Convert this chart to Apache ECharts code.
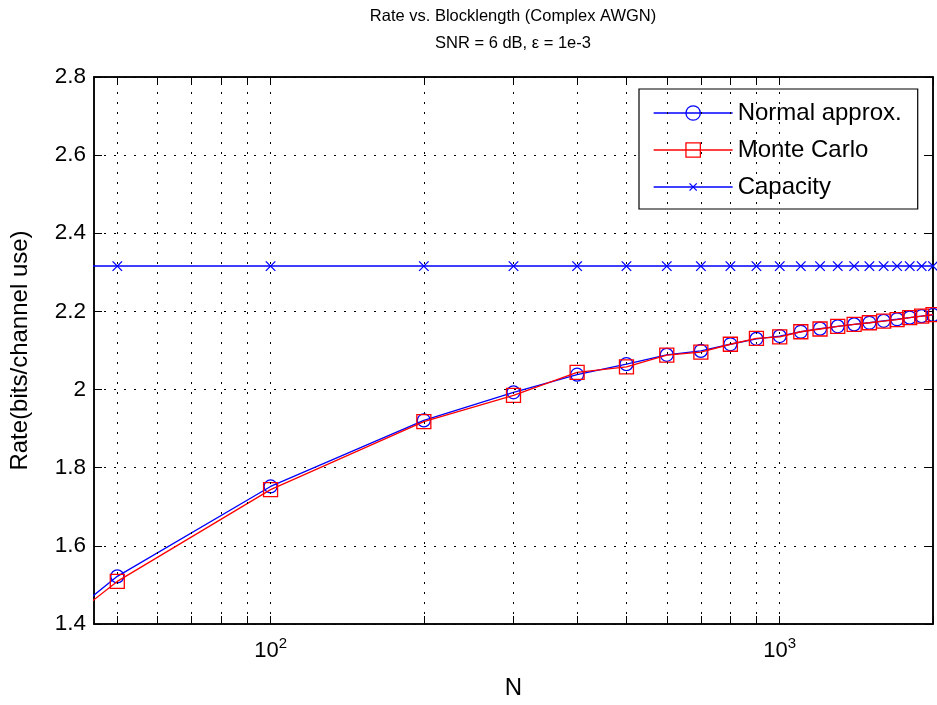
<!DOCTYPE html>
<html><head><meta charset="utf-8">
<script src="https://cdn.jsdelivr.net/npm/echarts@6/dist/echarts.min.js"></script>
<style>html,body{margin:0;padding:0;background:#fff}#c{width:937px;height:705px}</style>
</head><body><div id="c"></div>
<script>
// ---- data ----
const N = [40, 50, 100, 200, 300, 400, 500, 600, 700, 800, 900, 1000, 1100, 1200, 1300, 1400, 1500, 1600, 1700, 1800, 1900, 2000];
const normalApprox = [1.420, 1.522, 1.752, 1.921, 1.993, 2.038, 2.065, 2.089, 2.099, 2.116, 2.130, 2.137, 2.148, 2.156, 2.162, 2.167, 2.171, 2.176, 2.180, 2.184, 2.188, 2.191];
const monteCarlo   = [1.410, 1.509, 1.744, 1.918, 1.985, 2.044, 2.058, 2.088, 2.096, 2.116, 2.131, 2.135, 2.148, 2.155, 2.162, 2.167, 2.171, 2.175, 2.179, 2.184, 2.188, 2.192];
const capacity     = [2.316, 2.316, 2.316, 2.316, 2.316, 2.316, 2.316, 2.316, 2.316, 2.316, 2.316, 2.316, 2.316, 2.316, 2.316, 2.316, 2.316, 2.316, 2.316, 2.316, 2.316, 2.316];
const xMajorTicks = [100, 1000];
const xAllTicks = [50, 60, 70, 80, 90, 100, 200, 300, 400, 500, 600, 700, 800, 900, 1000, 2000];
const xGridLines = [50, 60, 70, 80, 90, 100, 200, 300, 400, 500, 600, 700, 800, 900, 1000];
const xRange = [45, 2000];
const yRange = [1.4, 2.8];
const yStep = 0.2;
const seriesNames = ['Normal approx.', 'Monte Carlo', 'Capacity'];
const titleText = 'Rate vs. Blocklength (Complex AWGN)\nSNR = 6 dB, \u03b5 = 1e-3';

// ---- chart ----
const FONT = "'Liberation Sans', Arial, Helvetica, sans-serif";
const BLUE = '#0000ff', RED = '#ff0000';
const XPATH = 'path://M0,0M20,20M5,5L15,15M15,5L5,15';
const chart = echarts.init(document.getElementById('c'), null, {renderer: 'canvas'});
const pairs = arr => N.map((n, i) => [n, arr[i]]);
const dotted = {color: '#000', width: 1, type: [2, 8]};

const sup = {'100': '2', '1000': '3'};
const xAxisBase = {
  type: 'log', logBase: 10, min: xRange[0], max: xRange[1],
  axisLine: {show: true, onZero: false, lineStyle: {color: '#000', width: 1.5}},
  splitLine: {show: false}, minorTick: {show: false}, minorSplitLine: {show: false}
};
const yAxisBase = {
  type: 'value', min: yRange[0], max: yRange[1], interval: yStep,
  axisLine: {show: true, onZero: false, lineStyle: {color: '#000', width: 1.5}}
};

chart.setOption({
  animation: false,
  backgroundColor: '#fff',
  title: {
    text: titleText, left: 513, top: 3, textAlign: 'center', padding: 0,
    textStyle: {fontFamily: FONT, fontSize: 16.5, fontWeight: 'normal', color: '#000', lineHeight: 27}
  },
  grid: {left: 93, right: 4, top: 77, bottom: 80, show: true, borderColor: '#000', borderWidth: 1.5, backgroundColor: '#fff'},
  legend: {
    orient: 'vertical', left: 639, top: 89, padding: [12, 16, 10, 14],
    itemWidth: 79, itemHeight: 18, itemGap: 13,
    backgroundColor: '#fff', borderColor: '#000', borderWidth: 1.2, borderRadius: 0,
    textStyle: {fontFamily: FONT, fontSize: 24, color: '#000', lineHeight: 22},
    data: [
      {name: seriesNames[0], itemStyle: {color: 'transparent', borderColor: BLUE, borderWidth: 1.3}, lineStyle: {color: BLUE, width: 1.3}},
      {name: seriesNames[1], itemStyle: {color: 'transparent', borderColor: RED, borderWidth: 1.3}, lineStyle: {color: RED, width: 1.3}},
      {name: seriesNames[2], itemStyle: {color: 'transparent', borderColor: BLUE, borderWidth: 1.3}, lineStyle: {color: BLUE, width: 1.3}}
    ]
  },
  xAxis: [
    Object.assign({}, xAxisBase, {
      position: 'bottom', name: 'N', nameLocation: 'middle', nameGap: 52,
      nameTextStyle: {fontFamily: FONT, fontSize: 24, color: '#000'},
      axisTick: {show: true, inside: true, length: 8, lineStyle: {color: '#000', width: 1}, customValues: xAllTicks},
      axisLabel: {
        show: true, margin: 12, customValues: xMajorTicks, color: '#000',
        formatter: v => '{b|10}{s|' + (sup[String(Math.round(v))] || '') + '}',
        rich: {b: {fontFamily: FONT, fontSize: 22, color: '#000'}, s: {fontFamily: FONT, fontSize: 15, color: '#000', padding: [0, 0, 14, 0]}}
      }
    }),
    Object.assign({}, xAxisBase, {
      position: 'top',
      axisTick: {show: true, inside: true, length: 8, lineStyle: {color: '#000', width: 1}, customValues: xAllTicks},
      axisLabel: {show: false}
    })
  ],
  yAxis: [
    Object.assign({}, yAxisBase, {
      position: 'left', name: 'Rate(bits/channel use)', nameLocation: 'middle', nameGap: 62,
      nameTextStyle: {fontFamily: FONT, fontSize: 24, color: '#000'},
      axisTick: {show: true, inside: true, length: 8, lineStyle: {color: '#000', width: 1}},
      axisLabel: {margin: 8, fontFamily: FONT, fontSize: 22.5, color: '#000', formatter: v => String(+(+v).toFixed(1))},
      splitLine: {show: true, lineStyle: dotted}
    }),
    Object.assign({}, yAxisBase, {
      position: 'right',
      axisTick: {show: true, inside: true, length: 8, lineStyle: {color: '#000', width: 1}},
      axisLabel: {show: false}, splitLine: {show: false}
    })
  ],
  series: [
    {
      name: 'grid', type: 'line', data: [], z: 1, silent: true,
      markLine: {silent: true, symbol: ['none', 'none'], label: {show: false}, lineStyle: dotted, animation: false,
        emphasis: {disabled: true}, data: xGridLines.map(v => ({xAxis: v}))}
    },
    {
      name: seriesNames[0], type: 'line', data: pairs(normalApprox), z: 3,
      symbol: 'circle', symbolSize: 13, showAllSymbol: true,
      lineStyle: {color: BLUE, width: 1.3},
      itemStyle: {color: 'transparent', borderColor: BLUE, borderWidth: 1.3}
    },
    {
      name: seriesNames[1], type: 'line', data: pairs(monteCarlo), z: 4,
      symbol: 'rect', symbolSize: 14, showAllSymbol: true,
      lineStyle: {color: RED, width: 1.3},
      itemStyle: {color: 'transparent', borderColor: RED, borderWidth: 1.3}
    },
    {
      name: seriesNames[2], type: 'line', data: pairs(capacity), z: 5,
      symbol: XPATH, symbolSize: 19, showAllSymbol: true,
      lineStyle: {color: BLUE, width: 1.5},
      itemStyle: {color: 'transparent', borderColor: BLUE, borderWidth: 1.3}
    }
  ]
});
</script></body></html>
